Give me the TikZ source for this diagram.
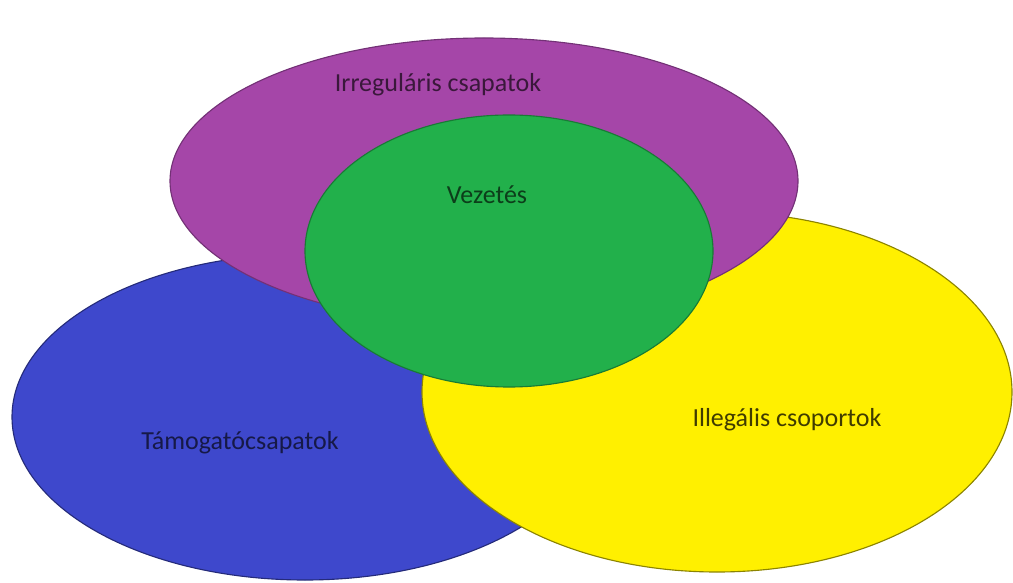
\documentclass[tikz,border=0pt]{standalone}
\usepackage{fontspec}
\setmainfont{Carlito}
\usepackage{xcolor}
\definecolor{irrpurple}{RGB}{165,70,168}
\definecolor{vezgreen}{RGB}{34,176,75}
\definecolor{tamblue}{RGB}{62,72,204}
\definecolor{illyellow}{RGB}{255,240,0}
\tikzset{set/.style={line width=0.8pt},set label/.style={font=\fontsize{18.5}{22}\selectfont}}

\begin{document}
\begin{tikzpicture}[x=0.025cm,y=-0.025cm]
			\useasboundingbox (0,0) rectangle (1013,583);

			\draw[set,fill=tamblue,draw=tamblue!60!black] (305,417) ellipse (293 and 163);
			\draw[set,fill=illyellow,draw=illyellow!55!black] (717,392) ellipse (295 and 180);
			\draw[set,fill=irrpurple,draw=irrpurple!70!black] (484,181) ellipse (314 and 143);
			\draw[set,fill=vezgreen,draw=vezgreen!70!black] (509,251) ellipse (204 and 136);

			\node[set label,text=irrpurple!35!black] (irr) at (438,85) {Irreguláris csapatok};
			\node[set label,text=vezgreen!35!black] (vez) at (487,195) {Vezetés};
			\node[set label,text=tamblue!35!black] (tam) at (240,443) {Támogatócsapatok};
			\node[set label,text=illyellow!25!black] (ill) at (787,420) {Illegális csoportok};
		\end{tikzpicture}
\end{document}
